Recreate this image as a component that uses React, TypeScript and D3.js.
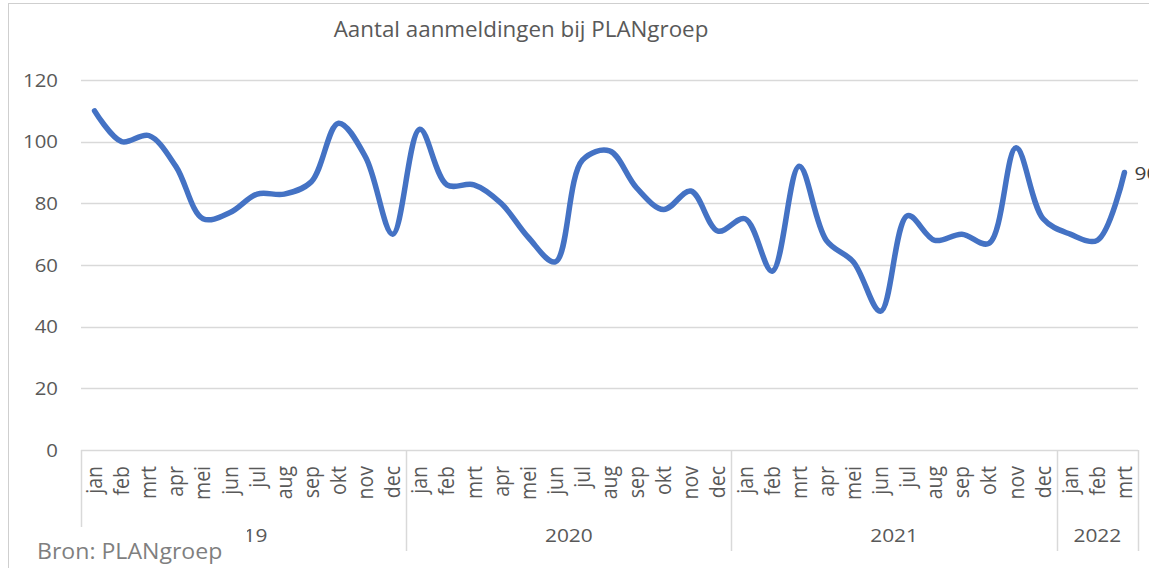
import { useEffect, useRef } from 'react'
import * as d3 from 'd3'

// maanden per jaar
const MONTHS = ['jan', 'feb', 'mrt', 'apr', 'mei', 'jun', 'jul', 'aug', 'sep', 'okt', 'nov', 'dec']
const YEARS = ['2019', '2020', '2021', '2022']
const MONTHS_PER_YEAR = [12, 12, 12, 3]

// aantal aanmeldingen per maand
const VALUES = [
  110, 100, 102, 92, 75, 77, 83, 83, 87, 106, 95, 70,   // 2019
  104, 86, 86, 80, 69, 61, 94, 97, 85, 78, 84, 71,      // 2020
  75, 58, 92, 68, 61, 45, 76, 68, 70, 67, 98, 75,       // 2021
  70, 68, 90,                                           // 2022
]
const Y_TICKS = [0, 20, 40, 60, 80, 100, 120]

const W = 1149
const H = 568
const PLOT = { left: 81, right: 1138, top: 80, bottom: 450 }
const FONT = '"Open Sans", sans-serif'
const TXT = '#595959'
const SX = 1.1   // tekst in het origineel is iets breder uitgerekt

export default function App() {
  const svgRef = useRef<SVGSVGElement>(null)

  useEffect(() => {
    const svg = d3.select(svgRef.current)
    svg.selectAll('*').remove()

    const cats: { key: string; month: string; year: string }[] = []
    YEARS.forEach((yr, yi) => {
      for (let m = 0; m < MONTHS_PER_YEAR[yi]; m++) {
        cats.push({ key: `${yr}-${MONTHS[m]}`, month: MONTHS[m], year: yr })
      }
    })
    const data = cats.map((c, i) => ({ ...c, v: VALUES[i] }))

    const x = d3.scaleBand<string>()
      .domain(cats.map((c) => c.key))
      .range([PLOT.left, PLOT.right])
      .padding(0)
    const bw = x.bandwidth()
    const cx = (k: string) => (x(k) ?? 0) + bw / 2

    const y = d3.scaleLinear().domain([0, 120]).range([PLOT.bottom, PLOT.top])

    // tekst op (tx, ty) met horizontale rek
    const label = (tx: number, ty: number, txt: string, size: number, anchor = 'start', fill = TXT, sx = SX) =>
      svg.append('text')
        .attr('transform', `translate(${tx},${ty}) scale(${sx},1)`)
        .attr('text-anchor', anchor).attr('font-family', FONT)
        .attr('font-size', size).attr('fill', fill)
        .text(txt)

    // ── kader ──
    svg.append('rect')
      .attr('x', 8.5).attr('y', 3.5).attr('width', W + 20).attr('height', H + 20)
      .attr('fill', '#fff').attr('stroke', '#cfcfcf').attr('stroke-width', 1)

    // ── titel ──
    label(521, 37, 'Aantal aanmeldingen bij PLANgroep', 21, 'middle', TXT, 1.065)

    // ── rasterlijnen + Y labels ──
    Y_TICKS.forEach((t) => {
      svg.append('line')
        .attr('x1', PLOT.left).attr('x2', PLOT.right)
        .attr('y1', Math.round(y(t)) + 0.5).attr('y2', Math.round(y(t)) + 0.5)
        .attr('stroke', '#d9d9d9').attr('stroke-width', 1.5)
      label(58, y(t) + 6.5, String(t), 18.5, 'end')
    })

    // ── groepslijnen (jaren) ──
    const bounds: number[] = []
    let idx = 0
    YEARS.forEach((yr, yi) => {
      const start = x(cats[idx].key) ?? 0
      bounds.push(start)
      const end = start + MONTHS_PER_YEAR[yi] * bw
      label((start + end) / 2, 542, yr, 19, 'middle')
      idx += MONTHS_PER_YEAR[yi]
    })
    bounds.push(PLOT.right)
    bounds.forEach((b) => {
      svg.append('line')
        .attr('x1', Math.round(b) + 0.5).attr('x2', Math.round(b) + 0.5)
        .attr('y1', PLOT.bottom).attr('y2', 551)
        .attr('stroke', '#d9d9d9').attr('stroke-width', 1.5)
    })

    // ── maandlabels ──
    data.forEach((d) => {
      svg.append('text')
        .attr('transform', `translate(${cx(d.key)},466) scale(${SX},1) rotate(-90)`)
        .attr('dy', '0.35em')
        .attr('text-anchor', 'end').attr('font-family', FONT)
        .attr('font-size', 19.5).attr('fill', TXT)
        .text(d.month)
    })

    // ── lijn ──
    const line = d3.line<{ key: string; v: number }>()
      .x((d) => cx(d.key))
      .y((d) => y(d.v))
      .curve(d3.curveCatmullRom.alpha(0.5))
    svg.append('path').datum(data).attr('d', line)
      .attr('fill', 'none').attr('stroke', '#4472C4')
      .attr('stroke-width', 5.5).attr('stroke-linecap', 'round')
      .attr('stroke-linejoin', 'round')

    // ── datalabel laatste punt (valt in het origineel deels buiten beeld) ──
    const last = data[data.length - 1]
    label(cx(last.key) + 10, y(last.v) + 7, String(last.v), 19, 'start', '#404040')

    // ── bron ──
    svg.append('rect')
      .attr('x', 10).attr('y', 527).attr('width', 237).attr('height', 50)
      .attr('fill', '#fff')
    label(37, 559, 'Bron: PLANgroep', 21, 'start', '#7f7f7f')
  }, [])

  return (
    <svg
      ref={svgRef}
      width={W}
      height={H}
      style={{ position: 'absolute', left: 0, top: 0, display: 'block' }}
    />
  )
}
